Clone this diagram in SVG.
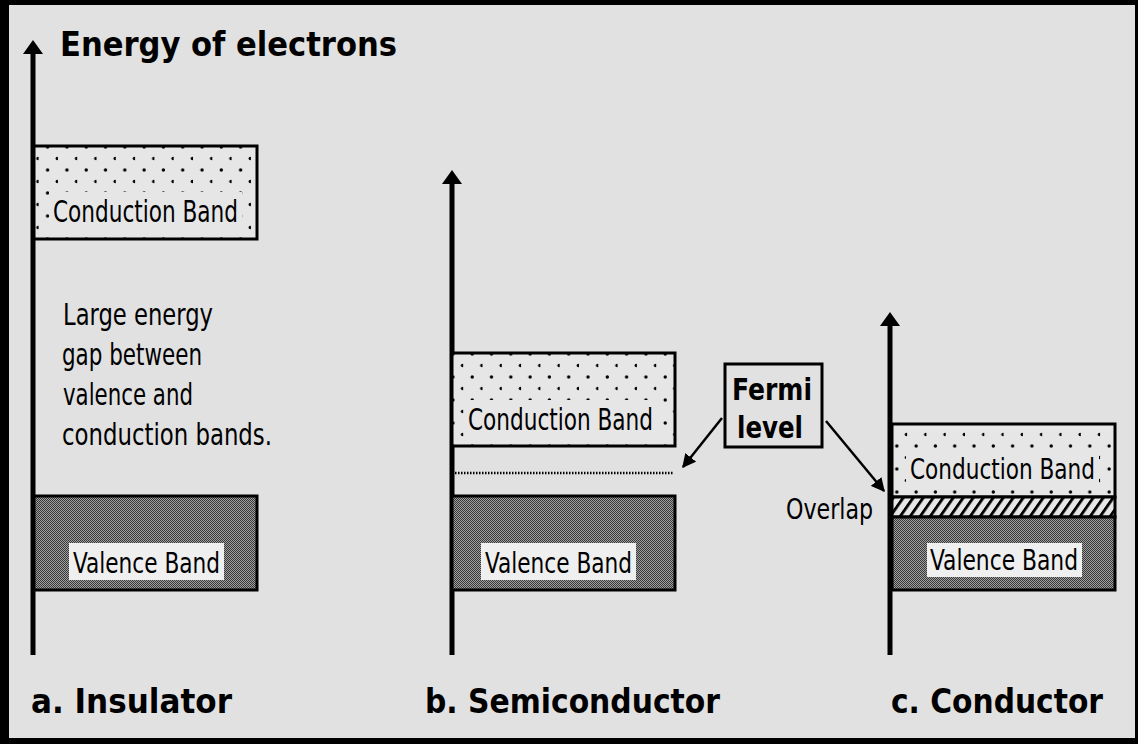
<svg xmlns="http://www.w3.org/2000/svg" width="1138" height="744" viewBox="0 0 1138 744">
<style>
.t{font-family:"DejaVu Sans Condensed","Liberation Sans Narrow","Liberation Sans",sans-serif;fill:#000}
.b{font-weight:bold}
.band{stroke:#000;stroke-width:3}
.axis{stroke:#000;stroke-width:5;fill:none}
.conn{stroke:#000;stroke-width:2.5;fill:none}
</style>
<defs>
<pattern id="dots" width="19.3" height="23" patternUnits="userSpaceOnUse">
<rect width="19.3" height="23" fill="#e6e6e6"/>
<circle cx="9" cy="9" r="1.7" fill="#000"/>
<circle cx="18.65" cy="20.5" r="1.7" fill="#000"/>
</pattern>
<pattern id="dark" width="2" height="2" patternUnits="userSpaceOnUse">
<rect width="2" height="2" fill="#a0a0a0"/>
<rect width="1" height="1" fill="#383838"/>
<rect x="1" y="1" width="1" height="1" fill="#383838"/>
</pattern>
<pattern id="hatch" width="10" height="20" patternUnits="userSpaceOnUse" patternTransform="skewX(-35)">
<rect width="10" height="20" fill="#e6e6e6"/>
<rect x="0" width="3.5" height="20" fill="#000"/>
</pattern>
<marker id="ah" viewBox="0 0 10 10" refX="9" refY="5" markerWidth="5.5" markerHeight="5.5" orient="auto">
<path d="M0,0 L10,5 L0,10 Z" fill="#000"/>
</marker>
</defs>
<rect width="1138" height="744" fill="#000"/>
<rect x="9" y="5" width="1126" height="733" fill="#e1e1e1"/>

<g id="title"><text class="t b" x="60" y="56" font-size="33" textLength="337" lengthAdjust="spacingAndGlyphs">Energy of electrons</text></g>

<g id="connectors">
<line class="axis" x1="33" y1="655" x2="33" y2="52"/>
<polygon points="33,40 23,54 43,54" fill="#000"/>
<line class="axis" x1="452" y1="655" x2="452" y2="182"/>
<polygon points="452,170 442,184 462,184" fill="#000"/>
<line class="axis" x1="890" y1="655" x2="890" y2="324"/>
<polygon points="890,312 880,326 900,326" fill="#000"/>
<line class="conn" x1="722" y1="418" x2="683" y2="467" marker-end="url(#ah)"/>
<line class="conn" x1="826" y1="421" x2="884" y2="491" marker-end="url(#ah)"/>
</g>

<g id="insulator-cb">
<rect class="band" x="34" y="146" width="223" height="93" fill="url(#dots)"/>
<rect x="49" y="192" width="193" height="38" fill="#e6e6e6"/>
<text class="t" x="53" y="222" font-size="30" textLength="185" lengthAdjust="spacingAndGlyphs">Conduction Band</text>
</g>
<g id="insulator-vb">
<rect class="band" x="34" y="496" width="223" height="94" fill="url(#dark)"/>
<rect x="69" y="543" width="155" height="37" fill="#efefef"/>
<text class="t" x="73" y="573" font-size="29" textLength="147" lengthAdjust="spacingAndGlyphs">Valence Band</text>
</g>
<g id="gap-note">
<text class="t" x="63" y="325" font-size="31" textLength="150" lengthAdjust="spacingAndGlyphs">Large energy</text>
<text class="t" x="62" y="365" font-size="31" textLength="140" lengthAdjust="spacingAndGlyphs">gap between</text>
<text class="t" x="63" y="405" font-size="31" textLength="130" lengthAdjust="spacingAndGlyphs">valence and</text>
<text class="t" x="62" y="445" font-size="31" textLength="210" lengthAdjust="spacingAndGlyphs">conduction bands.</text>
</g>

<g id="semi-cb">
<rect class="band" x="452" y="353" width="223" height="93" fill="url(#dots)"/>
<rect x="464" y="400" width="193" height="38" fill="#e6e6e6"/>
<text class="t" x="468" y="430" font-size="30" textLength="185" lengthAdjust="spacingAndGlyphs">Conduction Band</text>
</g>
<g id="semi-fermi-line">
<line x1="455" y1="473" x2="673" y2="473" stroke="#000" stroke-width="2.5" stroke-dasharray="1.5,1.5"/>
</g>
<g id="semi-vb">
<rect class="band" x="452" y="496" width="223" height="94" fill="url(#dark)"/>
<rect x="481" y="543" width="155" height="37" fill="#efefef"/>
<text class="t" x="485" y="573" font-size="29" textLength="147" lengthAdjust="spacingAndGlyphs">Valence Band</text>
</g>

<g id="fermi">
<rect x="725" y="364" width="97" height="83" fill="#e1e1e1" stroke="#000" stroke-width="3"/>
<text class="t b" x="732" y="400" font-size="30" textLength="80" lengthAdjust="spacingAndGlyphs">Fermi</text>
<text class="t b" x="737" y="438" font-size="30" textLength="66" lengthAdjust="spacingAndGlyphs">level</text>
</g>

<g id="cond-cb">
<rect class="band" x="892" y="424" width="223" height="73" fill="url(#dots)"/>
<rect x="906" y="452" width="193" height="35" fill="#e6e6e6"/>
<text class="t" x="910" y="479" font-size="28" textLength="185" lengthAdjust="spacingAndGlyphs">Conduction Band</text>
</g>
<g id="cond-overlap">
<rect class="band" x="892" y="497" width="223" height="20" fill="url(#hatch)"/>
</g>
<g id="cond-vb">
<rect class="band" x="892" y="517" width="223" height="73" fill="url(#dark)"/>
<rect x="927" y="543" width="155" height="34" fill="#efefef"/>
<text class="t" x="930" y="570" font-size="29" textLength="148" lengthAdjust="spacingAndGlyphs">Valence Band</text>
</g>
<g id="overlap-label"><text class="t" x="786" y="519" font-size="28" textLength="87" lengthAdjust="spacingAndGlyphs">Overlap</text></g>

<g id="labels">
<text class="t b" x="31" y="713" font-size="34" textLength="201" lengthAdjust="spacingAndGlyphs">a. Insulator</text>
<text class="t b" x="425" y="713" font-size="34" textLength="295" lengthAdjust="spacingAndGlyphs">b. Semiconductor</text>
<text class="t b" x="891" y="713" font-size="34" textLength="212" lengthAdjust="spacingAndGlyphs">c. Conductor</text>
</g>
</svg>
